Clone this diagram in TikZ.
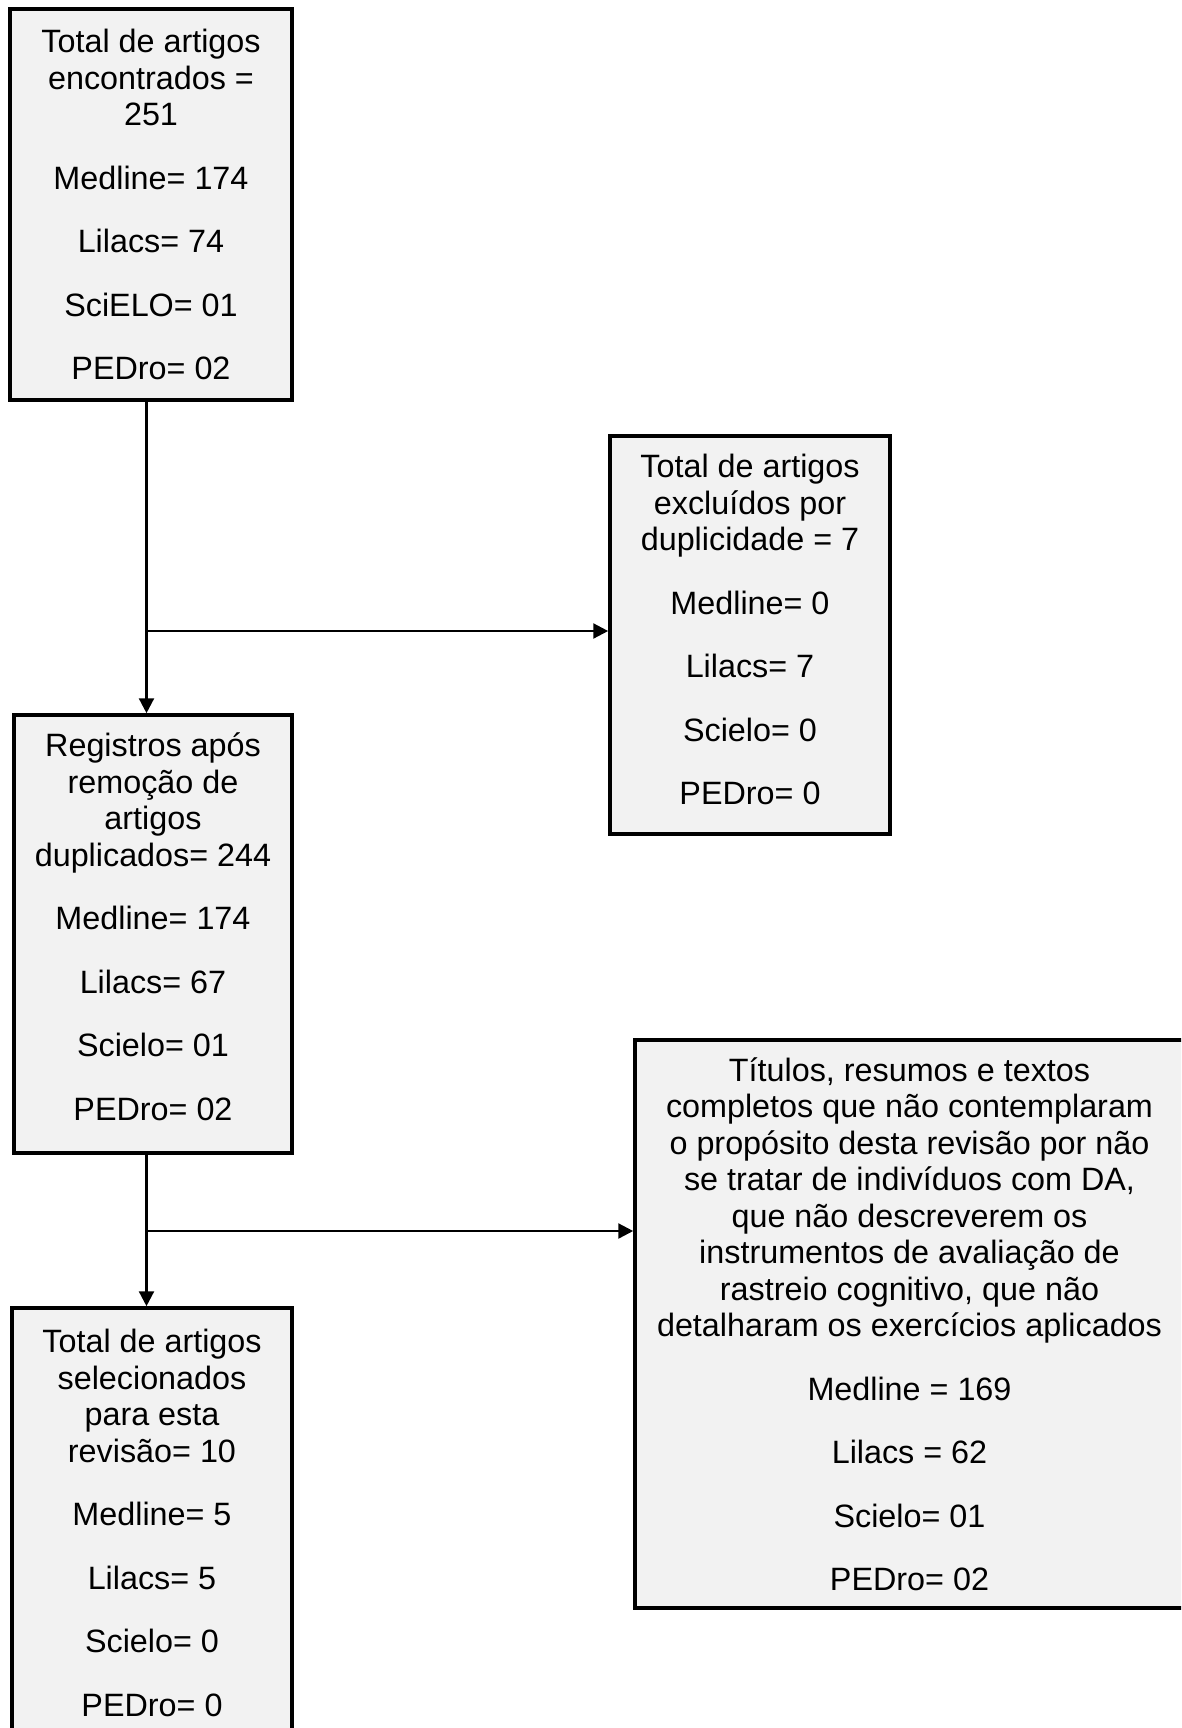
\documentclass[tikz,border=0pt]{standalone}
\usepackage{fontspec}
\setmainfont{Liberation Sans}
\usetikzlibrary{arrows.meta}
\definecolor{boxfill}{HTML}{F2F2F2}
\newcommand{\gapline}{\\[15.3pt]}
\tikzset{
  stage/.style={draw,line width=2.1pt,fill=boxfill,align=center,inner sep=0pt,
    font=\fontsize{18.4pt}{20.8pt}\selectfont},
  flow/.style={line width=1.4pt,-{Triangle[length=8.5pt,width=8.5pt]}}
}
\begin{document}
\begin{tikzpicture}[x=0.02cm,y=-0.02cm]
\clip (0,0) rectangle (1181,1728);
\node[stage,minimum width=5.64cm,minimum height=7.82cm] (found) at (151,204.5)
  {Total de artigos\\encontrados =\\251\gapline Medline= 174\gapline Lilacs= 74\gapline SciELO= 01\gapline PEDro= 02};
\node[stage,minimum width=5.60cm,minimum height=7.96cm,text depth=6.2pt] (excl) at (750,635)
  {Total de artigos\\excluídos por\\duplicidade = 7\gapline Medline= 0\gapline Lilacs= 7\gapline Scielo= 0\gapline PEDro= 0};
\node[stage,minimum width=5.56cm,minimum height=8.76cm,text depth=8.5pt] (dedup) at (153,934)
  {Registros após\\remoção de\\artigos\\duplicados= 244\gapline Medline= 174\gapline Lilacs= 67\gapline Scielo= 01\gapline PEDro= 02};
\node[stage,minimum width=10.98cm,minimum height=11.36cm] (screened) at (909.5,1324)
  {Títulos, resumos e textos\\completos que não contemplaram\\o propósito desta revisão por não\\se tratar de indivíduos com DA,\\que não descreverem os\\instrumentos de avaliação de\\rastreio cognitivo, que não\\detalharam os exercícios aplicados\gapline Medline = 169\gapline Lilacs = 62\gapline Scielo= 01\gapline PEDro= 02};
\node[stage,minimum width=5.59cm,minimum height=8.60cm] (chosen) at (152,1523)
  {Total de artigos\\selecionados\\para esta\\revisão= 10\gapline Medline= 5\gapline Lilacs= 5\gapline Scielo= 0\gapline PEDro= 0};
\coordinate (trunk) at (146.5,0);
\coordinate (split1) at (146.5,631);
\coordinate (split2) at (146.5,1231);
\draw[flow] (found.south -| trunk) -- (dedup.north -| trunk);
\draw[flow] (split1) -- (split1 -| excl.west);
\draw[flow] (dedup.south -| trunk) -- (chosen.north -| trunk);
\draw[flow] (split2) -- (split2 -| screened.west);
\end{tikzpicture}
\end{document}
